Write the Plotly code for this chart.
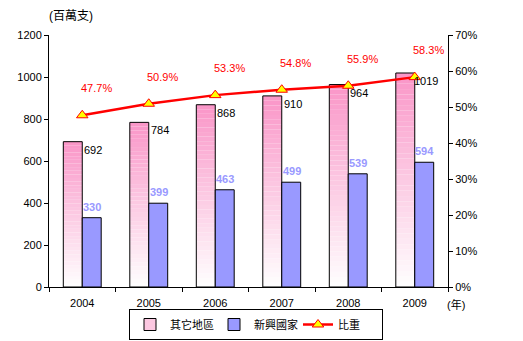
import plotly.graph_objects as go

years = ["2004", "2005", "2006", "2007", "2008", "2009"]
other_regions = [692, 784, 868, 910, 964, 1019]
emerging = [330, 399, 463, 499, 539, 594]
share_pct = [47.7, 50.9, 53.3, 54.8, 55.9, 58.3]

FONT = "Liberation Sans, Noto Sans CJK TC, sans-serif"
PINK_TOP = (250, 150, 200)
BLUE = "#9999ff"

fig = go.Figure()

# gradient pink bars (bands from white at the bottom to pink at the top)
N = 40
for k in range(N):
    f = (k + 0.5) / N
    r = int(255 + (PINK_TOP[0] - 255) * f)
    g = int(255 + (PINK_TOP[1] - 255) * f)
    b = int(255 + (PINK_TOP[2] - 255) * f)
    fig.add_trace(go.Bar(
        x=years, y=[v / N for v in other_regions],
        base=[v * k / N for v in other_regions],
        offsetgroup="other", marker=dict(color=f"rgb({r},{g},{b})", line=dict(width=0)),
        showlegend=False, hoverinfo="skip"))
# outline
fig.add_trace(go.Bar(
    x=years, y=other_regions, offsetgroup="other",
    marker=dict(color="rgba(0,0,0,0)", line=dict(color="black", width=1)),
    showlegend=False, hoverinfo="skip"))
# legend dummy
fig.add_trace(go.Bar(
    x=years, y=[None] * len(years), offsetgroup="other", name="其它地區",
    marker=dict(color="rgb(252,200,225)", line=dict(color="black", width=1)),
    legendrank=1))

fig.add_trace(go.Bar(
    x=years, y=emerging, offsetgroup="emerging", name="新興國家",
    marker=dict(color=BLUE, line=dict(color="black", width=1)), legendrank=2))

fig.add_trace(go.Scatter(
    x=years, y=share_pct, yaxis="y2", name="比重", mode="lines+markers",
    line=dict(color="#ff0000", width=2.5),
    marker=dict(symbol="triangle-up", size=10, color="#ffff00",
                line=dict(color="#ff0000", width=1)), legendrank=3))

ann = []
for i, v in enumerate(other_regions):
    ann.append(dict(x=i, y=v, xref="x", yref="y", text=str(v), showarrow=False,
                    xshift=11, yshift=-8, font=dict(size=11, color="black", family=FONT)))
for i, v in enumerate(emerging):
    ann.append(dict(x=i, y=v, xref="x", yref="y", text=f"<b>{v}</b>", showarrow=False,
                    xshift=10, yshift=11, font=dict(size=11, color=BLUE, family=FONT)))
for i, p in enumerate(share_pct):
    ann.append(dict(x=i, y=p, xref="x", yref="y2", text=f"{p}%", showarrow=False,
                    xshift=14, yshift=27, font=dict(size=11, color="#ff0000", family=FONT)))
ann.append(dict(xref="paper", yref="paper", x=(25 - 49) / 399, y=(287 - 16) / 252,
                xanchor="left", yanchor="middle", xshift=22, text="(百萬支)", showarrow=False,
                font=dict(size=12, color="black", family=FONT)))
ann.append(dict(xref="paper", yref="paper", x=(445 - 49) / 399, y=-0.07, xanchor="left",
                yanchor="middle", text="(年)", showarrow=False,
                font=dict(size=11, color="black", family=FONT)))

fig.update_layout(
    width=523, height=341,
    margin=dict(l=49, r=75, t=35, b=54, autoexpand=False),
    paper_bgcolor="white", plot_bgcolor="white",
    barmode="group", bargap=0.43, bargroupgap=0,
    font=dict(family=FONT, size=11, color="black"),
    xaxis=dict(type="category", range=[-0.5, 5.5], showline=True, linecolor="black", linewidth=1,
               ticks="outside", ticklen=4, tickcolor="black", tickson="boundaries",
               showgrid=False, tickfont=dict(size=11), ticklabelstandoff=6),
    yaxis=dict(range=[0, 1200], dtick=200, showline=True, linecolor="black", linewidth=1,
               ticks="outside", ticklen=4, tickcolor="black", showgrid=False, zeroline=False,
               tickfont=dict(size=11)),
    yaxis2=dict(range=[0, 70], dtick=10, ticksuffix="%", overlaying="y", side="right",
                showline=True, linecolor="black", linewidth=1, ticks="outside", ticklen=4,
                tickcolor="black", showgrid=False, zeroline=False, tickfont=dict(size=11)),
    legend=dict(orientation="h", xref="container", x=256 / 523, xanchor="center",
                yref="container", y=(341 - 324.5) / 341, yanchor="middle",
                bordercolor="black", borderwidth=1, bgcolor="white",
                font=dict(size=11, family=FONT), itemwidth=30, entrywidth=39,
                tracegroupgap=0),
    annotations=ann,
    showlegend=True,
)

fig.write_html("out.html")
